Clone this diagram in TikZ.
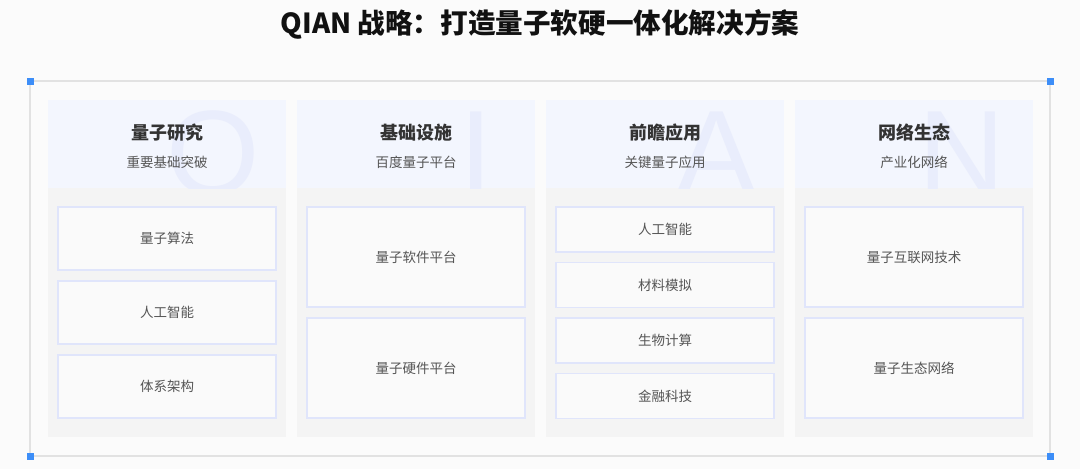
\documentclass[tikz,border=0pt]{standalone}
\usepackage{fontspec}
\setmainfont{Liberation Sans}
\newfontfamily\cjk{Noto Sans CJK SC}
\newfontfamily\wmfont{Liberation Sans}
\definecolor{bgc}{HTML}{FBFBFB}
\definecolor{framec}{HTML}{E2E2E2}
\definecolor{handlec}{HTML}{3D8EF8}
\definecolor{headc}{HTML}{F3F6FE}
\definecolor{bodyc}{HTML}{F4F4F4}
\definecolor{boxfill}{HTML}{FAFAFA}
\definecolor{boxline}{HTML}{E0E5FB}
\definecolor{wmc}{HTML}{E9EDFC}
\definecolor{titlec}{HTML}{111111}
\definecolor{headtc}{HTML}{333333}
\definecolor{subtc}{HTML}{555555}
\definecolor{itemtc}{HTML}{555555}
\begin{document}
\begin{tikzpicture}[x=1pt,y=-1pt,
  handle/.style={fill=handlec,draw=none,minimum size=7pt,inner sep=0pt},
  headbg/.style={fill=headc,draw=none,minimum width=238pt,minimum height=88pt,inner sep=0pt},
  bodybg/.style={fill=bodyc,draw=none,minimum width=238pt,minimum height=249pt,inner sep=0pt},
  item/.style={fill=boxfill,draw=boxline,line width=1.3pt,minimum width=218pt,inner sep=0pt,font=\cjk\fontsize{13.5}{16}\selectfont,text=itemtc},
  headt/.style={font=\cjk\bfseries\fontsize{18}{22}\selectfont,text=headtc},
  subt/.style={font=\cjk\fontsize{13.5}{16}\selectfont,text=subtc},
  wm/.style={font=\wmfont\fontsize{120}{120}\selectfont,text=wmc,anchor=base,inner sep=0pt}
]
\useasboundingbox (0,0) rectangle (1080,469);
\fill[bgc] (0,0) rectangle (1080,469);
% title
\node[font=\cjk\bfseries\fontsize{27.6}{32}\selectfont,text=titlec] (title) at (540,24) {QIAN 战略：打造量子软硬一体化解决方案};
% frame
\draw[framec,line width=1.5pt] (30,81) rectangle (1050,456);
\node[handle] (h1) at (30,81) {};
\node[handle] (h2) at (1050,81) {};
\node[handle] (h3) at (30,456) {};
\node[handle] (h4) at (1050,456) {};
% columns
\foreach \i/\cx in {1/167,2/416,3/665,4/914}{
  \node[headbg] (head\i) at (\cx,144) {};
  \node[bodybg] (body\i) at (\cx,312.5) {};
}
% watermarks clipped to headers
\begin{scope}
\clip (48,100) rectangle (286,188);
\node[wm] (wmQ) at (213,194) {Q};
\end{scope}
\begin{scope}
\clip (297,100) rectangle (535,188);
\node[wm] (wmI) at (476,194) {I};
\end{scope}
\begin{scope}
\clip (546,100) rectangle (784,188);
\node[wm] (wmA) at (717,194) {A};
\end{scope}
\begin{scope}
\clip (795,100) rectangle (1033,188);
\node[wm] (wmN) at (962,194) {N};
\end{scope}
% headers
\node[headt] (t1) at (167,133) {量子研究};
\node[subt] (s1) at (167,162) {重要基础突破};
\node[headt] (t2) at (416,133) {基础设施};
\node[subt] (s2) at (416,162) {百度量子平台};
\node[headt] (t3) at (665,133) {前瞻应用};
\node[subt] (s3) at (665,162) {关键量子应用};
\node[headt] (t4) at (914,133) {网络生态};
\node[subt] (s4) at (914,162) {产业化网络};
% column 1
\node[item,minimum height=63pt] (c1a) at (167,238.5) {量子算法};
\node[item,minimum height=63pt] (c1b) at (167,312.5) {人工智能};
\node[item,minimum height=63pt] (c1c) at (167,386.5) {体系架构};
% column 2
\node[item,minimum height=100pt] (c2a) at (416,257) {量子软件平台};
\node[item,minimum height=100pt] (c2b) at (416,368) {量子硬件平台};
% column 3
\node[item,minimum height=45pt] (c3a) at (665,229.5) {人工智能};
\node[item,minimum height=45pt] (c3b) at (665,285) {材料模拟};
\node[item,minimum height=45pt] (c3c) at (665,340.5) {生物计算};
\node[item,minimum height=45pt] (c3d) at (665,396) {金融科技};
% column 4
\node[item,minimum height=100pt] (c4a) at (914,257) {量子互联网技术};
\node[item,minimum height=100pt] (c4b) at (914,368) {量子生态网络};
\end{tikzpicture}
\end{document}
